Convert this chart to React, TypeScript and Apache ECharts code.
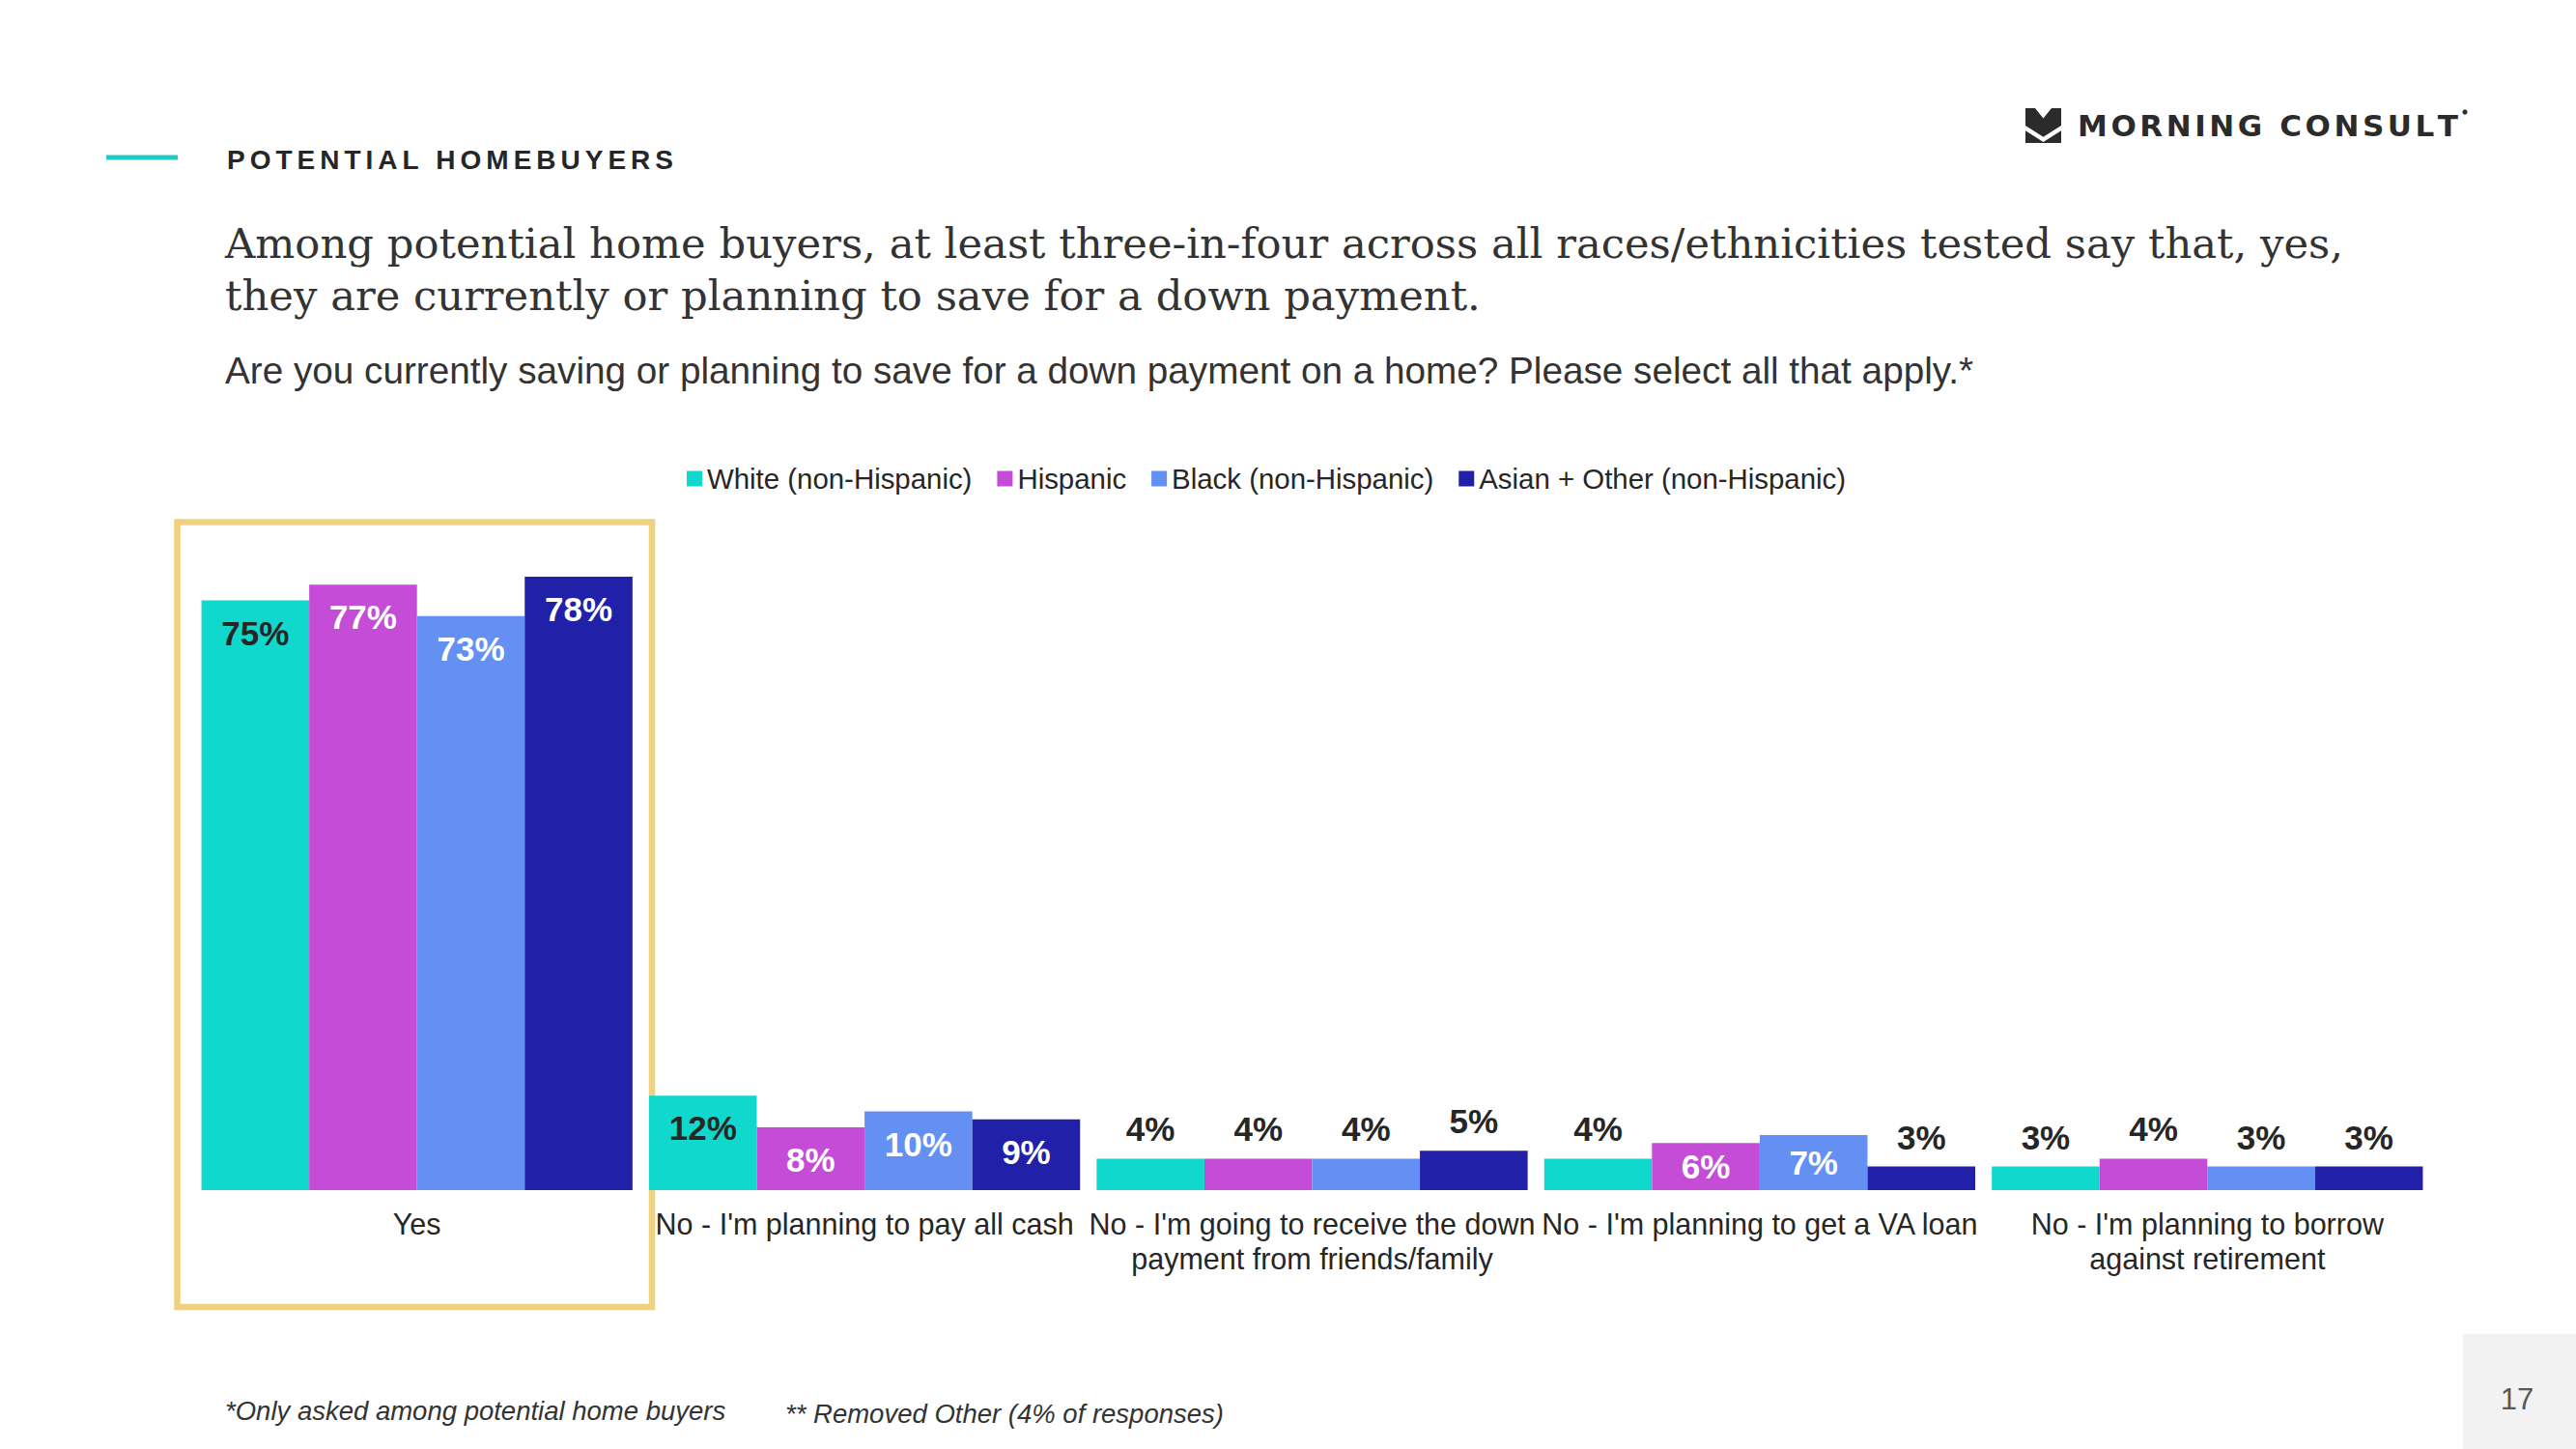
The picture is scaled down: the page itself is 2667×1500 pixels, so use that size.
import React, { useEffect, useRef } from "react";
import * as echarts from "echarts";

const categories = [
  "Yes",
  "No - I'm planning to pay all cash",
  "No - I'm going to receive the down\npayment from friends/family",
  "No - I'm planning to get a VA loan",
  "No - I'm planning to borrow\nagainst retirement",
];
const seriesNames = [
  "White (non-Hispanic)",
  "Hispanic",
  "Black (non-Hispanic)",
  "Asian + Other (non-Hispanic)",
];
const whiteValues = [75, 12, 4, 4, 3];
const hispanicValues = [77, 8, 4, 6, 4];
const blackValues = [73, 10, 4, 7, 3];
const asianValues = [78, 9, 5, 3, 3];
const seriesColors = ["#10D8CD", "#C44CD6", "#6490F4", "#2020A8"];

const kicker = "POTENTIAL HOMEBUYERS";
const titleText =
  "Among potential home buyers, at least three-in-four across all races/ethnicities tested say that, yes,\nthey are currently or planning to save for a down payment.";
const subtitleText =
  "Are you currently saving or planning to save for a down payment on a home? Please select all that apply.*";
const footnote1 = "*Only asked among potential home buyers";
const footnote2 = "** Removed Other (4% of responses)";
const pageNumber = "17";
const logoText = "MORNING CONSULT";

const SANS = '"Liberation Sans", Arial, sans-serif';
const SERIF = '"DejaVu Serif", "Liberation Serif", serif';
const DARK = "#262626";

function spacedText(str: string, x: number, y: number, font: string, targetWidth: number, color: string) {
  const canvas = document.createElement("canvas");
  const ctx = canvas.getContext("2d")!;
  ctx.font = font;
  const chars = Array.from(str);
  const widths = chars.map((c) => ctx.measureText(c).width);
  const total = widths.reduce((a, b) => a + b, 0);
  const sp = (targetWidth - total) / (chars.length - 1);
  let cx = x;
  const children: any[] = [];
  chars.forEach((c, i) => {
    if (c !== " ") {
      children.push({
        type: "text",
        x: cx,
        y,
        style: { text: c, font, fill: color, textAlign: "left", textVerticalAlign: "middle" },
      });
    }
    cx += widths[i] + sp;
  });
  return { type: "group", children };
}

function labelFor(v: number, seriesIndex: number) {
  const base = {
    show: true,
    formatter: "{c}%",
    fontSize: 35,
    fontWeight: "bold",
    fontFamily: SANS,
  };
  if (v >= 8) {
    return { ...base, position: "insideTop", distance: 16, color: seriesIndex === 0 ? DARK : "#FFFFFF" };
  }
  if (v >= 6) {
    return { ...base, position: "inside", color: seriesIndex === 0 ? DARK : "#FFFFFF" };
  }
  return { ...base, position: "top", distance: 13, color: DARK };
}

export default function App() {
  const ref = useRef<HTMLDivElement>(null);
  useEffect(() => {
    document.body.style.margin = "0";
    const chart = echarts.init(ref.current!, undefined, { renderer: "svg" });
    const allValues = [whiteValues, hispanicValues, blackValues, asianValues];

    const iconX = 2097;
    const iconY = 112;
    const iw = 37;
    const ih = 36;
    const pt = (px: number, py: number) => [iconX + (px / 37) * iw, iconY + (py / 34) * ih];

    const option: any = {
      animation: false,
      backgroundColor: "#FFFFFF",
      legend: {
        left: 711,
        top: 481,
        padding: 0,
        itemWidth: 16,
        itemHeight: 16,
        itemGap: 26,
        icon: "rect",
        textStyle: { fontSize: 29.4, color: DARK, fontFamily: SANS },
        data: seriesNames,
      },
      grid: {
        left: 200,
        right: 150,
        top: 418,
        bottom: 268,
        containLabel: false,
        outerBoundsMode: "none",
      },
      xAxis: {
        type: "category",
        data: categories,
        axisLine: { show: false },
        axisTick: { show: false },
        axisLabel: {
          interval: 0,
          fontSize: 30.5,
          lineHeight: 36,
          color: DARK,
          margin: 17,
          fontFamily: SANS,
        },
      },
      yAxis: { type: "value", min: 0, max: 100, show: false, splitLine: { show: false } },
      series: seriesNames.map((name, si) => ({
        name,
        type: "bar",
        barGap: "0%",
        barCategoryGap: "3.7%",
        itemStyle: { color: seriesColors[si] },
        data: allValues[si].map((v) => ({ value: v, label: labelFor(v, si) })),
      })),
      graphic: [
        { type: "line", shape: { x1: 110, y1: 163, x2: 184, y2: 163 }, style: { stroke: "#1FCBC4", lineWidth: 5 } },
        spacedText(kicker, 235, 165, `bold 28px ${SANS}`, 462, DARK),
        {
          type: "text",
          x: 233,
          y: 225,
          style: {
            text: titleText,
            font: `43.3px ${SERIF}`,
            lineHeight: 54,
            fill: "#333333",
            textAlign: "left",
            textVerticalAlign: "top",
          },
        },
        {
          type: "text",
          x: 233,
          y: 383,
          style: { text: subtitleText, font: `38.7px ${SANS}`, fill: "#333333", textAlign: "left", textVerticalAlign: "middle" },
        },
        {
          type: "rect",
          shape: { x: 183.5, y: 540.5, width: 491.5, height: 812.5 },
          style: { fill: "none", stroke: "#F0D27E", lineWidth: 6.5 },
        },
        {
          type: "text",
          x: 233,
          y: 1460,
          style: { text: footnote1, font: `italic 27.5px ${SANS}`, fill: "#333333", textAlign: "left", textVerticalAlign: "middle" },
        },
        {
          type: "text",
          x: 813,
          y: 1463,
          style: { text: footnote2, font: `italic 27.5px ${SANS}`, fill: "#333333", textAlign: "left", textVerticalAlign: "middle" },
        },
        { type: "rect", shape: { x: 2550, y: 1381, width: 117, height: 119 }, style: { fill: "#F2F2F2" } },
        {
          type: "text",
          x: 2606,
          y: 1448,
          style: { text: pageNumber, font: `31px ${SANS}`, fill: "#595959", textAlign: "center", textVerticalAlign: "middle" },
        },
        {
          type: "polygon",
          shape: { points: [pt(0, 0), pt(10, 0), pt(18.5, 10), pt(27, 0), pt(37, 0), pt(37, 17), pt(18.5, 28), pt(0, 17)] },
          style: { fill: "#2B2B2B" },
        },
        {
          type: "polygon",
          shape: { points: [pt(0, 22), pt(18.5, 33), pt(37, 22), pt(37, 34), pt(0, 34)] },
          style: { fill: "#2B2B2B" },
        },
        spacedText(logoText, 2151, 130, `bold 31px "DejaVu Sans", sans-serif`, 394, "#2B2B2B"),
        { type: "circle", shape: { cx: 2552, cy: 116, r: 2.6 }, style: { fill: "#2B2B2B" } },
      ],
    };
    chart.setOption(option);
    return () => chart.dispose();
  }, []);
  return <div ref={ref} style={{ position: "absolute", left: 0, top: 0, width: 2667, height: 1500 }} />;
}
